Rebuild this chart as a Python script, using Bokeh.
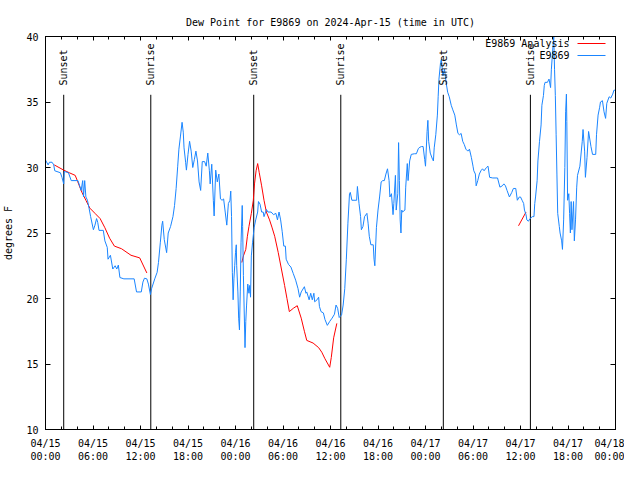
from bokeh.plotting import figure
from bokeh.models import FixedTicker, Label, BoxAnnotation, LinearAxis, Range1d
from bokeh.embed import file_html
from bokeh.resources import INLINE

title_text = "Dew Point for E9869 on 2024-Apr-15 (time in UTC)"
y_label = "degrees F"
series_names = ["E9869 Analysis", "E9869"]

x_ticks = [0, 6, 12, 18, 24, 30, 36, 42, 48, 54, 60, 66, 72]
x_minor = list(range(0, 73, 2))
x_tick_labels = ["04/15\n00:00", "04/15\n06:00", "04/15\n12:00", "04/15\n18:00",
                 "04/16\n00:00", "04/16\n06:00", "04/16\n12:00", "04/16\n18:00",
                 "04/17\n00:00", "04/17\n06:00", "04/17\n12:00", "04/17\n18:00",
                 "04/18\n00:00"]
y_ticks = [10, 15, 20, 25, 30, 35, 40]

# hours since 2024-04-15 00:00 UTC
obs_hours = [0.0, 0.33, 0.5, 0.83, 1.04, 1.17, 1.88, 2.08, 2.3, 2.38, 2.9, 3.25, 4.1, 4.5, 4.7, 4.8, 4.95, 5.1,
             5.3, 5.5, 5.7, 6.05, 6.25, 6.45, 6.6, 6.76, 7.3, 7.5, 7.8, 7.9, 8.2, 8.5, 8.8, 9.0, 9.2, 9.4,
             9.9, 11.2, 11.5, 12.1, 12.3, 12.5, 12.8, 13.0, 13.25, 13.4, 13.8, 14.1, 14.27, 14.5, 14.7,
             14.8, 15.0, 15.3, 15.5, 15.8, 16.1, 16.3, 16.5, 16.7, 16.85, 17.05, 17.25, 17.4, 17.5, 17.7,
             17.8, 18.0, 18.2, 18.4, 18.6, 18.8, 19.0, 19.2, 19.4, 19.6, 19.8, 20.1, 20.3, 20.5, 20.7,
             20.8, 21.0, 21.2, 21.3, 21.5, 21.7, 21.9, 22.1, 22.3, 22.5, 22.7, 22.9, 23.1, 23.3, 23.4,
             23.5, 23.6, 23.7, 23.8, 23.9, 24.0, 24.1, 24.15, 24.3, 24.4, 24.5, 24.6, 24.7, 24.85, 24.9,
             25.0, 25.2, 25.3, 25.4, 25.55, 25.7, 25.8, 25.9, 26.0, 26.15, 26.35, 26.55, 26.8, 26.9,
             27.1, 27.3, 27.5, 27.6, 27.8, 27.9, 28.1, 28.5, 28.8, 29.1, 29.3, 29.5, 29.7, 29.9, 30.1,
             30.3, 30.4, 30.7, 31.0, 31.3, 31.6, 31.9, 32.1, 32.3, 32.7, 32.9, 33.0, 33.3, 33.5, 33.7,
             33.9, 34.0, 34.3, 34.5, 34.6, 34.8, 35.1, 35.3, 35.6, 35.9, 36.2, 36.5, 36.7, 36.9, 37.1,
             37.4, 37.6, 37.8, 38.0, 38.2, 38.4, 38.5, 38.7, 39.3, 39.4, 39.6, 39.8, 39.9, 40.1, 40.3,
             40.6, 40.75, 40.9, 41.1, 41.4, 41.5, 41.6, 41.8, 42.0, 42.2, 42.4, 42.6, 42.8, 43.0, 43.2,
             43.4, 43.5, 43.7, 43.9, 44.0, 44.2, 44.3, 44.5, 44.6, 44.7, 44.8, 44.9, 45.0, 45.1, 45.4,
             45.5, 45.7, 45.8, 46.0, 46.2, 46.6, 46.85, 47.1, 47.3, 47.5, 47.7, 47.9, 48.0, 48.2, 48.3,
             48.4, 48.6, 48.9, 49.0, 49.1, 49.3, 49.5, 49.6, 49.7, 49.9, 50.0, 50.2, 50.4, 50.6, 50.8,
             51.0, 51.25, 51.45, 51.7, 51.9, 52.1, 52.3, 52.5, 52.7, 52.9, 53.1, 53.35, 53.55, 53.8,
             54.0, 54.1, 54.3, 54.4, 54.6, 54.8, 55.0, 55.2, 55.4, 55.7, 55.9, 56.1, 56.5, 57.1, 57.4,
             57.7, 57.9, 58.1, 58.3, 58.6, 58.9, 59.1, 59.4, 59.6, 59.85, 60.0, 60.2, 60.4, 60.5, 60.7,
             60.8, 61.0, 61.2, 61.5, 61.7, 61.8, 61.9, 62.1, 62.2, 62.4, 62.6, 62.7, 62.9, 63.0, 63.1,
             63.4, 63.6, 63.8, 63.9, 64.1, 64.2, 64.3, 64.4, 64.5, 64.6, 64.7, 64.9, 65.0, 65.2, 65.3,
             65.45, 65.6, 65.7, 65.8, 65.85, 65.95, 66.1, 66.2, 66.3, 66.4, 66.5, 66.7, 66.8, 66.95,
             67.1, 67.2, 67.5, 67.8, 67.9, 68.1, 68.2, 68.4, 68.6, 68.9, 69.1, 69.5, 69.6, 69.8, 70.0,
             70.1, 70.35, 70.55, 70.75, 70.9, 71.2, 71.4, 71.65, 71.8, 72.0]
obs_dewpt = [30.57, 30.2, 30.4, 30.4, 30.2, 29.75, 29.6, 29.25, 28.75, 29.7, 29.6, 29.0, 29.0, 28.25, 29.0, 27.75,
             29.0, 27.75, 27.5, 26.9, 26.25, 25.25, 25.6, 26.1, 25.8, 25.2, 25.2, 24.4, 23.9, 23.0, 23.3,
             22.25, 22.5, 22.25, 22.55, 21.6, 21.5, 21.5, 20.5, 20.5, 21.25, 21.55, 21.5, 21.1, 20.3,
             20.75, 21.5, 22.0, 22.75, 24.25, 25.6, 25.9, 24.5, 23.5, 25.0, 25.5, 26.25, 27.1, 28.4,
             30.1, 31.4, 32.4, 33.45, 32.7, 31.5, 30.4, 29.8, 31.0, 32.0, 31.25, 30.0, 30.6, 31.25, 30.5,
             28.9, 28.25, 30.45, 30.45, 30.1, 31.1, 29.75, 28.75, 30.25, 27.5, 26.3, 29.8, 28.9, 29.5,
             27.6, 27.5, 27.6, 26.6, 25.6, 27.25, 27.5, 28.2, 26.25, 22.0, 19.9, 21.5, 22.5, 23.5, 24.1,
             22.5, 20.5, 18.5, 17.6, 20.5, 24.25, 27.1, 25.5, 21.75, 16.25, 18.25, 19.5, 21.1, 20.4,
             21.0, 20.1, 23.25, 24.25, 25.4, 26.0, 26.6, 27.4, 27.2, 26.6, 26.6, 26.25, 26.6, 26.8, 26.6,
             26.6, 26.4, 26.5, 26.0, 26.6, 26.0, 25.1, 24.0, 24.0, 23.0, 22.6, 22.4, 21.9, 21.4, 20.75,
             20.1, 20.5, 20.9, 20.4, 20.5, 19.9, 20.4, 19.9, 20.4, 19.75, 19.9, 20.1, 19.4, 19.0, 18.9,
             18.4, 17.95, 18.25, 18.5, 18.8, 19.5, 19.25, 18.55, 18.75, 19.5, 20.75, 23.0, 25.75, 28.0,
             28.1, 27.5, 27.5, 28.55, 27.25, 26.25, 25.25, 25.5, 26.25, 26.5, 25.75, 24.75, 24.1, 24.1,
             23.0, 22.5, 25.4, 26.75, 27.75, 28.9, 29.0, 29.0, 29.5, 29.9, 29.0, 27.75, 28.0, 26.4,
             27.25, 29.4, 26.75, 28.0, 31.9, 29.0, 26.0, 25.0, 26.75, 26.6, 26.75, 28.5, 30.3, 29.0,
             30.5, 31.0, 31.05, 31.05, 31.45, 31.55, 31.6, 31.6, 30.6, 30.1, 32.75, 33.6, 32.0, 31.1,
             30.6, 30.5, 31.5, 32.5, 34.0, 35.4, 36.75, 38.0, 38.25, 37.0, 37.5, 36.5, 35.75, 35.4,
             34.75, 34.4, 34.0, 33.25, 32.6, 32.5, 32.6, 32.0, 31.75, 31.4, 31.25, 31.4, 30.75, 30.1,
             29.75, 29.5, 28.6, 29.0, 29.5, 29.75, 29.9, 29.75, 30.0, 30.1, 29.25, 29.2, 29.2, 28.5,
             28.6, 28.75, 28.6, 28.25, 27.75, 28.1, 28.4, 28.4, 27.5, 27.75, 27.75, 27.5, 27.25, 26.75,
             26.4, 26.0, 25.9, 26.1, 26.25, 26.25, 27.25, 27.75, 29.0, 30.5, 32.0, 33.25, 34.75, 35.5,
             36.25, 36.5, 36.5, 36.75, 36.1, 37.5, 39.25, 40.0, 37.5, 35.5, 32.5, 29.5, 26.5, 25.5, 25.0,
             24.4, 23.75, 26.0, 30.0, 34.25, 35.6, 33.5, 27.5, 28.0, 26.5, 25.0, 27.4, 25.25, 27.4, 24.4,
             26.0, 28.5, 29.4, 30.1, 32.0, 32.9, 31.25, 29.25, 30.75, 32.75, 31.6, 31.0, 31.0, 32.5,
             34.0, 34.6, 35.0, 35.1, 34.25, 33.75, 34.9, 35.4, 35.3, 35.6, 35.9, 35.9]

nan = float("nan")
ana_hours = [1.1, 1.7, 2.3, 3.0, 3.75, 4.05, 4.6, 5.1, 5.6, 6.25, 6.9, 7.5, 8.1, 8.7, 9.6, 10.8, 11.9, 12.8,
             13.0,
             24.8, 25.0, 25.3, 25.5, 25.7, 26.0, 26.25, 26.4, 26.6, 26.8, 27.0, 27.3, 27.6, 27.9, 28.3,
             28.6, 28.95, 29.4, 29.8, 30.2, 30.5, 30.8, 31.3, 31.8, 32.3, 32.7, 33.0, 33.8, 34.5, 34.9,
             35.3, 35.9, 36.1, 36.4, 36.8,
             37.0,
             59.75, 60.7]
ana_dewpt = [30.2, 30.0, 29.8, 29.6, 29.4, 28.95, 28.1, 27.5, 26.9, 26.5, 26.1, 25.4, 24.6, 24.0, 23.8, 23.3,
             23.1, 21.95,
             nan,
             22.75, 23.25, 23.75, 24.75, 25.5, 26.5, 27.5, 28.75, 29.75, 30.3, 29.6, 28.6, 27.5, 26.6,
             26.0, 25.45, 24.75, 23.5, 22.25, 21.0, 20.0, 19.0, 19.25, 19.45, 18.5, 17.5, 16.8, 16.6,
             16.25, 15.9, 15.4, 14.75, 15.5, 17.0, 18.1,
             nan,
             25.55, 26.6]

event_hours = [2.3, 13.3, 26.3, 37.3, 50.25, 61.25]
event_names = ["Sunset", "Sunrise", "Sunset", "Sunrise", "Sunset", "Sunrise"]
sun_line_top = 35.55

FONT = "DejaVu Sans Mono"
BLUE = "#1a85ff"
RED = "#ff0000"
series_colors = [RED, BLUE]

p = figure(width=624, height=464, x_range=Range1d(0, 72), y_range=Range1d(10, 40),
           output_backend="svg", toolbar_location=None,
           min_border_left=44, min_border_right=9, min_border_top=36, min_border_bottom=32)
p.title.text = title_text
p.title.align = "center"
p.title.text_font = FONT
p.title.text_font_size = "10px"
p.title.text_font_style = "normal"
p.title.text_color = "black"
p.title.standoff = 17
p.grid.visible = False
p.outline_line_color = "black"
p.outline_line_width = 1
p.background_fill_color = "white"
p.border_fill_color = "white"

xt = FixedTicker(ticks=x_ticks, minor_ticks=x_minor)
yt = FixedTicker(ticks=y_ticks, minor_ticks=[])

xa = p.xaxis[0]
xa.ticker = xt
xa.major_label_overrides = {t: l for t, l in zip(x_ticks, x_tick_labels)}
xa.major_label_text_line_height = 1.2
xa.major_label_standoff = 8
xa.major_tick_in = 4
xa.minor_tick_in = 3
ya = p.yaxis[0]
ya.ticker = yt
ya.axis_label = y_label
ya.axis_label_text_font = FONT
ya.axis_label_text_font_size = "10px"
ya.axis_label_text_font_style = "normal"
ya.axis_label_text_color = "black"
ya.axis_label_standoff = 9
ya.major_label_standoff = 7
ya.major_tick_in = 5

for ax in (xa, ya):
    ax.major_label_text_font = FONT
    ax.major_label_text_font_size = "10px"
    ax.major_label_text_color = "black"
    ax.major_tick_out = 0
    ax.minor_tick_out = 0
    ax.axis_line_color = "black"
    ax.major_tick_line_color = "black"
    ax.minor_tick_line_color = "black"

# mirrored ticks on top and right (labels not drawn)
top = LinearAxis(ticker=xt, major_label_text_font_size="0px", major_label_text_color=None,
                 major_label_standoff=0, major_tick_in=4, major_tick_out=0, minor_tick_in=3, minor_tick_out=0,
                 axis_line_color="black", major_tick_line_color="black", minor_tick_line_color="black")
right = LinearAxis(ticker=yt, major_label_text_font_size="0px", major_label_text_color=None,
                   major_label_standoff=0, major_tick_in=5, major_tick_out=0, minor_tick_in=0, minor_tick_out=0,
                   axis_line_color="black", major_tick_line_color="black")
p.add_layout(top, "above")
p.add_layout(right, "right")

# sunrise / sunset markers
p.segment(x0=event_hours, y0=[10] * len(event_hours), x1=event_hours, y1=[sun_line_top] * len(event_hours),
          line_color="black", line_width=1)
for h, name in zip(event_hours, event_names):
    p.add_layout(Label(x=h, y=344, x_units="data", y_units="screen", text=name,
                       angle=90, angle_units="deg", text_align="left", text_baseline="middle",
                       text_font=FONT, text_font_size="10px", text_color="black"))

p.line(ana_hours, ana_dewpt, line_color=RED, line_width=1)
p.line(obs_hours, obs_dewpt, line_color=BLUE, line_width=1)

# legend (text to the left of sample line)
for i, (name, col) in enumerate(zip(series_names, series_colors)):
    ys = 386 - 12 * i
    p.add_layout(Label(x=524, y=ys, x_units="screen", y_units="screen", text=name,
                       text_align="right", text_baseline="middle",
                       text_font=FONT, text_font_size="10px", text_color="black"))
    p.add_layout(BoxAnnotation(left=532, right=560, bottom=ys - 0.5, top=ys + 0.5,
                               left_units="screen", right_units="screen",
                               bottom_units="screen", top_units="screen",
                               fill_color=col, fill_alpha=1.0, line_color=None))

open("out.html", "w").write(file_html(p, INLINE))
